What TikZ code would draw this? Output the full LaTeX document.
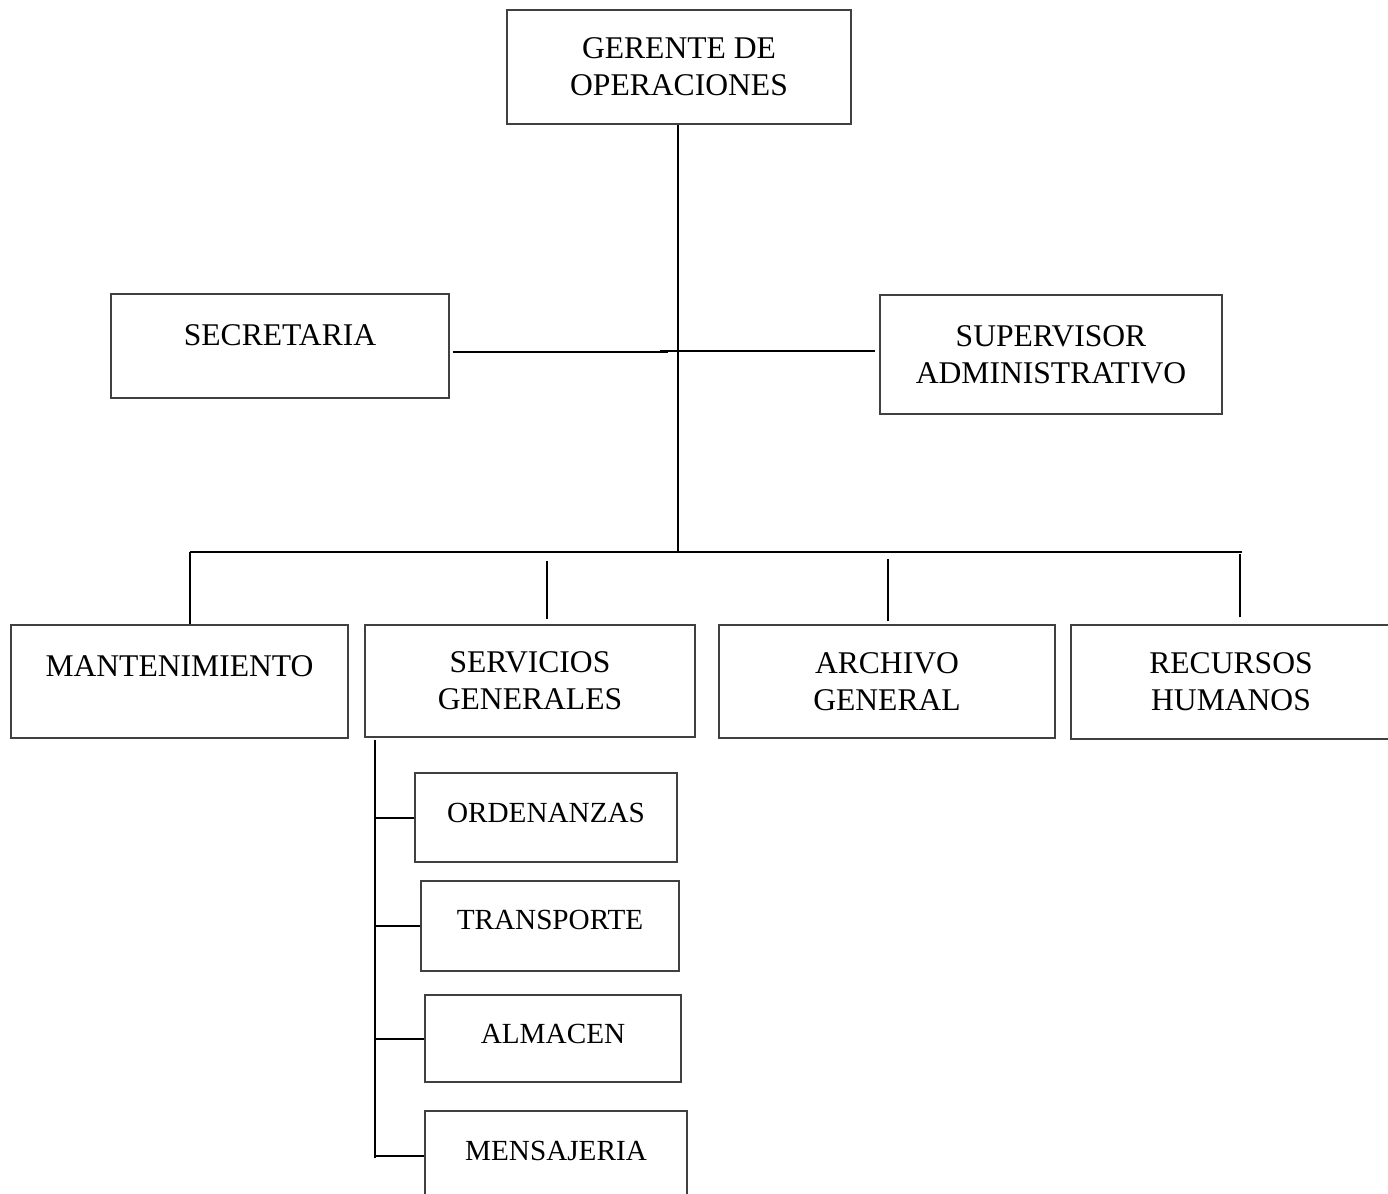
\documentclass[tikz,border=0pt]{standalone}
\usepackage{fontspec}
\setmainfont{Liberation Serif}
\usepackage{tikz}

\begin{document}
\begin{tikzpicture}[x=0.5pt, y=-0.5pt, font=\fontsize{15.8}{18.5}\selectfont,
        box/.style={draw=black!75, line width=0.7pt, align=center, inner sep=0pt},
        subbox/.style={box, font=\fontsize{14.6}{17}\selectfont},
        link/.style={line width=1pt}]
            \useasboundingbox (0,0) rectangle (1388,1194);

            % Nodes
            \node[box, minimum width=172pt, minimum height=57pt] (ger) at (679,67) {GERENTE DE\\OPERACIONES};
            \node[box, minimum width=169pt, minimum height=52pt, text depth=11pt] (sec) at (280,346) {SECRETARIA};
            \node[box, minimum width=171pt, minimum height=59.5pt] (sup) at (1051,354.5) {SUPERVISOR\\ADMINISTRATIVO};
            \node[box, minimum width=168.5pt, minimum height=56.5pt, text depth=15pt] (man) at (179.5,681.5) {MANTENIMIENTO};
            \node[box, minimum width=165pt, minimum height=56pt] (ser) at (530,681) {SERVICIOS\\GENERALES};
            \node[box, minimum width=168pt, minimum height=56.5pt] (arc) at (887,681.5) {ARCHIVO\\GENERAL};
            \node[box, minimum width=160pt, minimum height=57pt] (rec) at (1231,682) {RECURSOS\\HUMANOS};
            \node[subbox, minimum width=131pt, minimum height=44.5pt, text depth=5pt] (ord) at (546,817.5) {ORDENANZAS};
            \node[subbox, minimum width=129pt, minimum height=45pt, text depth=6pt] (tra) at (550,926) {TRANSPORTE};
            \node[subbox, minimum width=128pt, minimum height=43.5pt, text depth=4.5pt] (alm) at (553,1038.5) {ALMACEN};
            \node[subbox, minimum width=131pt, minimum height=45pt, text depth=5pt] (men) at (556,1156) {MENSAJERIA};

            % Junctions
            \coordinate (bar) at (678,552);
            \coordinate (barL) at (190,552);
            \coordinate (barR) at (1242,552);
            \coordinate (jL) at (668,352);
            \coordinate (jR) at (660,351);
            \coordinate (subtop) at (375,740);
            \coordinate (subbot) at (375,1158);

            % Lines
            \draw[link] (ger.south -| bar) -- (bar);
            \draw[link] ([xshift=1.5pt,yshift=-3pt]sec.east) -- (jL);
            \draw[link] (jR) -- ([xshift=-2pt,yshift=1.75pt]sup.west);
            \draw[link] (barL) -- (barR);
            \draw[link] (barL) -- (man.north -| barL);
            \draw[link] ([xshift=8.5pt,yshift=2.5pt]ser.north) -- ([xshift=8.5pt,yshift=31.5pt]ser.north);
            \draw[link] ([xshift=0.5pt,yshift=1.5pt]arc.north) -- ([xshift=0.5pt,yshift=32.5pt]arc.north);
            \draw[link] ([xshift=4.5pt,yshift=3.5pt]rec.north) -- ([xshift=4.5pt,yshift=35pt]rec.north);
            \draw[link] (subtop) -- (subbot);
            \draw[link] (subtop |- ord.west) -- (ord.west);
            \draw[link] (subtop |- tra.west) -- (tra.west);
            \draw[link] (subtop |- alm.west) -- (alm.west);
            \draw[link] (subtop |- men.west) -- (men.west);
        \end{tikzpicture}
\end{document}
